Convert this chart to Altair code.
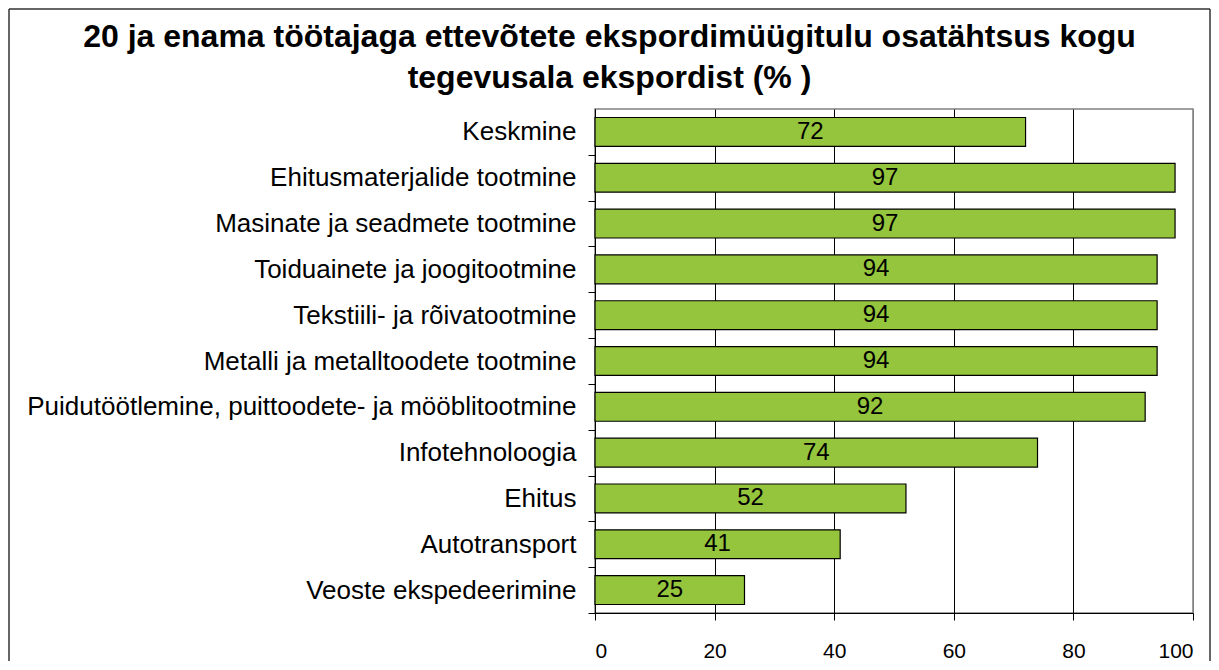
import altair as alt
import pandas as pd

categories = [
    "Keskmine",
    "Ehitusmaterjalide tootmine",
    "Masinate ja seadmete tootmine",
    "Toiduainete ja joogitootmine",
    "Tekstiili- ja rõivatootmine",
    "Metalli ja metalltoodete tootmine",
    "Puidutöötlemine, puittoodete- ja mööblitootmine",
    "Infotehnoloogia",
    "Ehitus",
    "Autotransport",
    "Veoste ekspedeerimine",
]
values = [72, 97, 97, 94, 94, 94, 92, 74, 52, 41, 25]
x_ticks = [0, 20, 40, 60, 80, 100]
title_lines = [
    "20 ja enama töötajaga ettevõtete ekspordimüügitulu osatähtsus kogu",
    "tegevusala ekspordist (% )",
]

df = pd.DataFrame({"cat": categories, "val": values})

W, H = 598, 504
FONT = "Liberation Sans"
CELL = H / len(categories)

y_scale = alt.Scale(paddingInner=0.37, paddingOuter=0.185)

x_enc = alt.X(
    "val:Q",
    scale=alt.Scale(domain=[0, 100]),
    axis=alt.Axis(
        values=x_ticks,
        title=None,
        grid=True,
        gridColor={"condition": {"test": "datum.value >= 100", "value": "#808080"}, "value": "#000000"},
        gridWidth=1,
        domainColor="black",
        tickColor="black",
        tickSize=7,
        labelFontSize=21,
        labelPadding=20,
        labelColor="black",
        labelFont=FONT,
    ),
)

y_axis = alt.Axis(
    grid=False,
    domainColor="black",
    tickColor="black",
    tickSize=7,
    tickOffset=CELL / 2,
    labelOffset=-CELL / 2,
    labelFontSize=26,
    labelPadding=12,
    labelColor="black",
    labelFont=FONT,
    labelLimit=800,
    title=None,
)

bars = alt.Chart(df).mark_bar(
    color="#95C43D", stroke="black", strokeWidth=1.2
).encode(
    x=x_enc,
    y=alt.Y("cat:N", sort=categories, scale=y_scale, title=None, axis=y_axis),
)

texts = alt.Chart(df).transform_calculate(mid="datum.val / 2").mark_text(
    fontSize=24, font=FONT, color="black", align="center", baseline="middle"
).encode(
    x=alt.X("mid:Q"),
    y=alt.Y("cat:N", sort=categories, scale=y_scale, title=None, axis=y_axis),
    text=alt.Text("val:Q"),
)

frame_df = pd.DataFrame({"k": [0]})
left_rule = alt.Chart(frame_df).mark_rule(color="#333333", strokeWidth=1.5).encode(
    x=alt.value(-586), y=alt.value(-100), y2=alt.value(552)
)
top_rule = alt.Chart(frame_df).mark_rule(color="#333333", strokeWidth=1.5).encode(
    x=alt.value(-586), x2=alt.value(615), y=alt.value(-100)
)
right_rule = alt.Chart(frame_df).mark_rule(color="#333333", strokeWidth=1.5).encode(
    x=alt.value(615), y=alt.value(-100), y2=alt.value(552)
)

chart = alt.layer(bars, texts, left_rule, top_rule, right_rule).properties(
    width=W,
    height=H,
    title=alt.TitleParams(
        title_lines,
        fontSize=32,
        font=FONT,
        fontWeight="bold",
        anchor="middle",
        frame="bounds",
        lineHeight=41,
        offset=12,
        dy=99,
        color="black",
    ),
    padding=0,
).configure_view(stroke="#808080", strokeWidth=1.5)

chart.save("out.html", embed_options={"renderer": "svg", "actions": False})
